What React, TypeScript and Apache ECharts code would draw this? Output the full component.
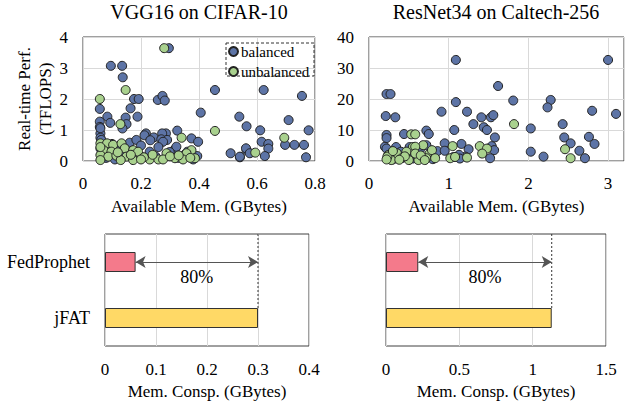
import React, { useEffect, useRef } from "react";
import * as echarts from "echarts";

const FONT = "Liberation Serif";

const titles = ["VGG16 on CIFAR-10", "ResNet34 on Caltech-256"];
const seriesNames = ["balanced", "unbalanced"];

const vggBalanced: [number, number][] = [
  [0.296, 3.64], [0.096, 3.07], [0.135, 3.07], [0.137, 2.7], [0.176, 2.0], [0.192, 2.0],
  [0.164, 1.7], [0.188, 1.43], [0.147, 1.4], [0.15, 1.19], [0.136, 1.05], [0.084, 1.43],
  [0.058, 1.68], [0.058, 1.27], [0.058, 1.1], [0.094, 1.23], [0.258, 1.97], [0.274, 2.1],
  [0.282, 1.95], [0.406, 1.56], [0.455, 2.29], [0.623, 2.29], [0.755, 2.1], [0.539, 1.43],
  [0.564, 1.12], [0.709, 1.32], [0.778, 0.99], [0.611, 0.99],
  [0.325, 0.98], [0.286, 0.89], [0.06, 0.89], [0.06, 1.06], [0.06, 0.75], [0.217, 0.89],
  [0.244, 0.76], [0.273, 0.89], [0.27, 0.7], [0.161, 0.59], [0.184, 0.68], [0.29, 0.68],
  [0.063, 0.68], [0.374, 0.73], [0.397, 0.62], [0.276, 0.62], [0.509, 0.25], [0.541, 0.12],
  [0.564, 0.35], [0.317, 0.38], [0.394, 0.16], [0.562, 0.41], [0.575, 0.25], [0.616, 0.62],
  [0.639, 0.55], [0.639, 0.4], [0.627, 0.16], [0.697, 0.52], [0.729, 0.52], [0.762, 0.52],
  [0.769, 0.12], [0.541, 0.14], [0.322, 0.46], [0.299, 0.29], [0.1, 0.55], [0.12, 0.45],
  [0.14, 0.3], [0.2, 0.5], [0.23, 0.3], [0.25, 0.15], [0.33, 0.1], [0.36, 0.3], [0.38, 0.05],
  [0.08, 0.1], [0.06, 0.4], [0.11, 0.05], [0.26, 0.45], [0.35, 0.2], [0.212, 0.83], [0.232, 0.67],
];

const vggUnbalanced: [number, number][] = [
  [0.28, 3.64], [0.147, 2.29], [0.058, 2.0], [0.129, 1.19], [0.455, 0.97], [0.694, 0.75],
  [0.34, 0.75], [0.594, 0.27], [0.06, 0.57], [0.083, 0.57], [0.104, 0.52], [0.133, 0.57],
  [0.144, 0.41], [0.071, 0.35], [0.098, 0.3], [0.173, 0.35], [0.06, 0.19], [0.087, 0.14],
  [0.115, 0.17], [0.15, 0.14], [0.2, 0.14], [0.19, 0.3], [0.23, 0.05], [0.26, 0.05],
  [0.06, 0.03], [0.13, 0.03], [0.173, 0.03], [0.374, 0.35], [0.357, 0.25], [0.386, 0.09],
  [0.288, 0.25], [0.317, 0.09], [0.345, 0.05], [0.276, 0.05], [0.21, 0.12], [0.24, 0.2],
  [0.3, 0.15], [0.33, 0.18], [0.06, 0.45], [0.12, 0.28], [0.165, 0.2], [0.2, 0.05], [0.37, 0.1],
];

const resBalanced: [number, number][] = [
  [0.22, 21.6], [0.27, 21.6], [0.21, 14.5], [0.33, 14.1], [0.22, 8.4], [0.22, 7.4],
  [1.09, 32.6], [3.0, 32.6], [1.62, 24.2], [1.81, 19.5], [2.28, 19.7], [2.24, 17.3],
  [1.09, 19.0], [0.91, 15.9], [1.23, 15.9], [2.8, 16.2], [3.1, 15.2], [1.31, 11.9],
  [1.41, 14.1], [1.53, 14.1], [1.56, 14.8], [1.44, 10.9], [1.48, 10.0], [1.07, 10.0],
  [2.03, 10.5], [2.43, 11.9], [1.58, 7.6], [2.45, 7.6], [2.76, 7.8], [0.44, 8.7],
  [0.72, 9.8], [0.75, 8.7], [0.95, 5.7], [1.16, 5.5], [1.25, 3.8], [1.54, 4.8], [1.57, 3.5],
  [1.52, 0.9], [2.03, 3.0], [1.21, 1.4], [1.13, 2.0], [2.53, 5.7], [2.83, 5.5], [2.64, 3.3],
  [2.71, 0.9], [2.19, 1.4], [0.86, 3.2], [0.2, 4.6], [0.95, 3.3], [0.22, 4.0], [0.34, 4.5],
  [0.51, 4.5], [0.72, 5.1], [0.64, 3.7], [0.47, 2.4], [0.26, 1.8], [0.76, 1.8], [1.06, 1.3],
  [1.14, 0.8], [0.3, 0.5], [0.55, 0.8], [0.8, 0.6], [0.4, 3.0], [0.6, 1.5],
];

const resUnbalanced: [number, number][] = [
  [1.82, 11.9], [0.53, 8.6], [0.58, 8.6], [1.05, 4.8], [1.39, 4.8], [1.48, 4.0], [1.42, 2.4],
  [2.46, 3.8], [2.53, 0.9], [1.02, 0.9], [1.08, 1.3], [1.23, 1.1], [0.55, 4.5], [0.68, 5.1],
  [0.76, 2.4], [0.24, 1.9], [0.35, 2.5], [0.47, 3.0], [0.58, 4.6], [0.79, 3.5], [0.28, 0.3],
  [0.41, 0.9], [0.62, 0.3], [0.72, 0.9], [0.83, 0.9], [0.23, 1.4], [0.5, 0.3], [0.58, 2.4],
  [0.3, 3.2], [0.45, 1.5], [0.65, 1.8], [0.38, 0.4], [0.7, 0.3], [0.22, 0.5],
];

const methods = ["FedProphet", "jFAT"];
const memVGG = [0.06, 0.3];
const memRes = [0.22, 1.13];
const reductionLabels = ["80%", "80%"];

const BLUE = "#5d74a6";
const GREEN = "#a9d18e";
const BAR_COLORS = ["#f47a8b", "#ffd966"];

export default function App() {
  const ref = useRef<HTMLDivElement>(null);

  useEffect(() => {
    if (!ref.current) return;
    const chart = echarts.init(ref.current, undefined, { renderer: "svg" });

    const BAR_W = 20;
    const BAR_GRID_H = 112;
    const barHalf = (BAR_W / 2) / (BAR_GRID_H / methods.length);

    const lbl = { color: "#000", fontFamily: FONT, fontSize: 17 };
    const nameStyle = { color: "#000", fontFamily: FONT, fontSize: 17 };
    const frame = { show: true, borderColor: "#404040", borderWidth: 1, backgroundColor: "transparent" };

    const valX = (gi: number, max: number, interval: number, name: string, margin = 14) => ({
      gridIndex: gi,
      type: "value",
      min: 0,
      max,
      interval,
      axisLine: { show: false },
      axisTick: { show: false },
      splitLine: { show: true, lineStyle: { color: "#d9d9d9", width: 1 } },
      axisLabel: {
        ...lbl,
        margin,
        formatter: (v: number) => {
          const k = Math.round(v / interval);
          return Math.abs(k * interval - v) < 1e-9 ? String(+v.toFixed(2)) : "";
        },
      },
      name,
      nameLocation: "middle",
      nameGap: 37,
      nameTextStyle: nameStyle,
    });

    const scatterSeries = (xi: number, yi: number, data: [number, number][], name: string, color: string) => ({
      type: "scatter",
      name,
      xAxisIndex: xi,
      yAxisIndex: yi,
      data,
      symbol: "circle",
      symbolSize: 9,
      itemStyle: { color, borderColor: "#222", borderWidth: 1, opacity: 1 },
      silent: true,
    });

    const barSeries = (xi: number, yi: number, data: number[]) => ({
      type: "bar",
      xAxisIndex: xi,
      yAxisIndex: yi,
      barWidth: BAR_W,
      data: data.map((v, i) => ({
        value: v,
        itemStyle: { color: BAR_COLORS[i], borderColor: "#333", borderWidth: 1 },
      })),
      silent: true,
    });

    const helperSeries = (xi: number, yi: number, data: number[], label: string) => ({
      type: "line",
      xAxisIndex: xi,
      yAxisIndex: yi,
      data: [
        [data[1], methods.length],
        [data[1], 0.5 + barHalf],
      ],
      symbol: "none",
      lineStyle: { color: "#333", type: [2, 2], width: 1 },
      silent: true,
      markLine: {
        silent: true,
        symbol: ["arrow", "arrow"],
        symbolSize: [9, 10],
        lineStyle: { color: "#555", type: "solid", width: 1 },
        label: {
          show: true,
          formatter: label,
          position: "insideMiddleBottom",
          distance: 6,
          color: "#000",
          fontFamily: FONT,
          fontSize: 18,
        },
        data: [[{ coord: [data[0], 1.5] }, { coord: [data[1], 1.5] }]],
      },
    });

    const option: any = {
      animation: false,
      backgroundColor: "#fff",
      textStyle: { fontFamily: FONT },
      grid: [
        { left: 83, top: 37, width: 232, height: 124, ...frame },
        { left: 369, top: 37, width: 255, height: 124, ...frame },
        { left: 105, top: 234, width: 204, height: BAR_GRID_H, ...frame },
        { left: 386, top: 234, width: 220, height: BAR_GRID_H, ...frame },
      ],
      xAxis: [
        valX(0, 0.8, 0.2, "Available Mem. (GBytes)"),
        valX(1, 3.2, 1, "Available Mem. (GBytes)"),
        valX(2, 0.4, 0.1, "Mem. Consp. (GBytes)", 15),
        valX(3, 1.5, 0.5, "Mem. Consp. (GBytes)", 15),
      ],
      yAxis: [
        {
          gridIndex: 0, type: "value", min: 0, max: 4, interval: 1,
          axisLine: { show: false }, axisTick: { show: false },
          splitLine: { show: true, lineStyle: { color: "#d9d9d9" } },
          axisLabel: { ...lbl, margin: 15 },
          name: "Real-time Perf.\n(TFLOPS)", nameLocation: "middle", nameRotate: 90, nameGap: 25,
          nameTextStyle: { ...nameStyle, lineHeight: 21 },
        },
        {
          gridIndex: 1, type: "value", min: 0, max: 40, interval: 10,
          axisLine: { show: false }, axisTick: { show: false },
          splitLine: { show: true, lineStyle: { color: "#d9d9d9" } },
          axisLabel: { ...lbl, margin: 15 },
        },
        {
          gridIndex: 2, type: "category", data: methods, inverse: true,
          axisLine: { show: false }, axisTick: { show: false }, splitLine: { show: false },
          axisLabel: { ...lbl, fontSize: 18, margin: 15 },
        },
        {
          gridIndex: 3, type: "category", data: methods, inverse: true,
          axisLine: { show: false }, axisTick: { show: false }, splitLine: { show: false },
          axisLabel: { show: false },
        },
        { gridIndex: 2, type: "value", min: 0, max: methods.length, show: false },
        { gridIndex: 3, type: "value", min: 0, max: methods.length, show: false },
      ],
      legend: {
        data: seriesNames,
        orient: "vertical",
        left: 228,
        top: 44,
        itemWidth: 9,
        itemHeight: 9,
        itemGap: 5,
        padding: 0,
        icon: "circle",
        textStyle: { color: "#000", fontFamily: FONT, fontSize: 15, padding: [0, 0, 0, -2] },
      },
      graphic: [
        {
          type: "rect",
          shape: { x: 226, y: 43, width: 88, height: 33 },
          style: { fill: "none", stroke: "#333", lineWidth: 1, lineDash: [3, 2] },
          silent: true,
          z: 100,
        },
        {
          type: "text",
          x: 199,
          y: 12,
          style: { text: titles[0], fill: "#000", font: `20px ${FONT}`, textAlign: "center", textVerticalAlign: "middle" },
        },
        {
          type: "text",
          x: 496,
          y: 12,
          style: { text: titles[1], fill: "#000", font: `20px ${FONT}`, textAlign: "center", textVerticalAlign: "middle" },
        },
      ],
      series: [
        scatterSeries(0, 0, vggBalanced, seriesNames[0], BLUE),
        scatterSeries(0, 0, vggUnbalanced, seriesNames[1], GREEN),
        scatterSeries(1, 1, resBalanced, seriesNames[0], BLUE),
        scatterSeries(1, 1, resUnbalanced, seriesNames[1], GREEN),
        barSeries(2, 2, memVGG),
        barSeries(3, 3, memRes),
        helperSeries(2, 4, memVGG, reductionLabels[0]),
        helperSeries(3, 5, memRes, reductionLabels[1]),
      ],
    };

    chart.setOption(option);
    return () => chart.dispose();
  }, []);

  return (
    <div
      ref={ref}
      style={{ position: "fixed", left: 0, top: 0, width: 634, height: 404, background: "#fff" }}
    />
  );
}
